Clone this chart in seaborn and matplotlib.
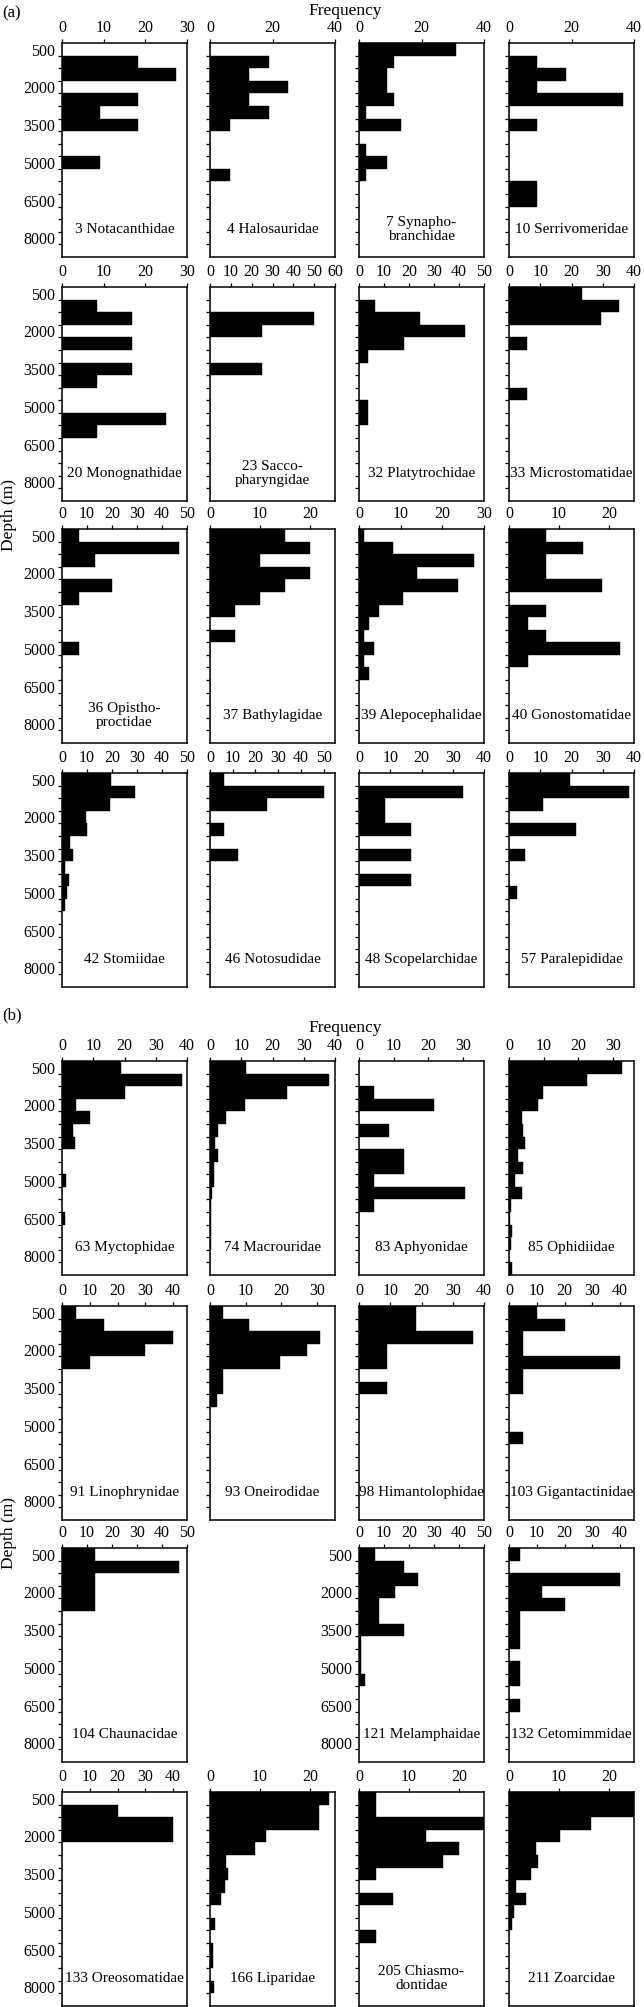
import matplotlib
matplotlib.use("Agg")
import matplotlib.pyplot as plt
import numpy as np
import seaborn as sns

# --- depth bins (m), 500 m wide ---
depth_edges = [0, 500, 1000, 1500, 2000, 2500, 3000, 3500, 4000, 4500,
               5000, 5500, 6000, 6500, 7000, 7500, 8000, 8500]
depth_mid = [250, 750, 1250, 1750, 2250, 2750, 3250, 3750, 4250,
             4750, 5250, 5750, 6250, 6750, 7250, 7750, 8250]
depth_ticklabels = ["500", "", "", "2000", "", "", "3500", "", "", "5000",
                    "", "", "6500", "", "", "8000"]

# --- frequency (%) per depth bin, panel (a) ---
notacanthidae = [0, 18.2, 27.3, 0, 18.2, 9.1, 18.2, 0, 0, 9.1, 0, 0, 0, 0, 0, 0, 0]
halosauridae = [0, 18.8, 12.5, 25, 12.5, 18.8, 6.3, 0, 0, 0, 6.3, 0, 0, 0, 0, 0, 0]
synaphobranchidae = [31.1, 11.1, 8.9, 8.9, 11.1, 2.2, 13.3, 0, 2.2, 8.9, 2.2, 0, 0, 0, 0, 0, 0]
serrivomeridae = [0, 9.1, 18.2, 9.1, 36.4, 0, 9.1, 0, 0, 0, 0, 9.1, 9.1, 0, 0, 0, 0]
monognathidae = [0, 8.3, 16.7, 0, 16.7, 0, 16.7, 8.3, 0, 0, 25, 8.3, 0, 0, 0, 0, 0]
saccopharyngidae = [0, 0, 50, 25, 0, 0, 25, 0, 0, 0, 0, 0, 0, 0, 0, 0, 0]
platytrochidae = [0, 6.5, 24.5, 42.5, 18, 3.5, 0, 0, 0, 3.5, 3.5, 0, 0, 0, 0, 0, 0]
microstomatidae = [23.5, 35.3, 29.4, 0, 5.9, 0, 0, 0, 5.9, 0, 0, 0, 0, 0, 0, 0, 0]
opisthoproctidae = [6.7, 46.7, 13.3, 0, 20, 6.7, 0, 0, 0, 6.7, 0, 0, 0, 0, 0, 0, 0]
bathylagidae = [15, 20, 10, 20, 15, 10, 5, 0, 5, 0, 0, 0, 0, 0, 0, 0, 0]
alepocephalidae = [1.3, 8.2, 27.5, 13.8, 23.7, 10.5, 4.8, 2.5, 1.3, 3.5, 1.3, 2.5, 0, 0, 0, 0, 0]
gonostomatidae = [7.4, 14.8, 7.4, 7.4, 18.5, 0, 7.4, 3.7, 7.4, 22.2, 3.7, 0, 0, 0, 0, 0, 0]
stomiidae = [19.5, 29, 19, 9.5, 10, 3, 4.3, 1, 2.7, 1.8, 1, 0, 0, 0, 0, 0, 0]
notosudidae = [6.3, 50, 25, 0, 6.3, 0, 12.5, 0, 0, 0, 0, 0, 0, 0, 0, 0, 0]
scopelarchidae = [0, 33.3, 8.3, 8.3, 16.7, 0, 16.7, 0, 16.7, 0, 0, 0, 0, 0, 0, 0, 0]
paralepididae = [19.5, 38.5, 11, 0, 21.5, 0, 5, 0, 0, 2.5, 0, 0, 0, 0, 0, 0, 0]

# --- panel (b) ---
myctophidae = [19, 38.5, 20, 4.5, 9, 3.5, 4, 0, 0, 1.2, 0, 0, 1, 0, 0, 0, 0]
macrouridae = [11.5, 38, 24.5, 11.1, 5.2, 2.6, 1.6, 2.4, 1.4, 1.3, 0.6, 0.4, 0.4, 0.3, 0.3, 0, 0]
aphyonidae = [0, 0, 4.3, 21.7, 0, 8.7, 0, 13, 13, 4.3, 30.4, 4.3, 0, 0, 0, 0, 0]
ophidiidae = [32.5, 22.5, 9.7, 8.3, 3.8, 4, 4.5, 2.6, 4, 1.7, 3.8, 0.6, 0.3, 1, 0.6, 0, 1]
linophrynidae = [5, 15, 40, 30, 10, 0, 0, 0, 0, 0, 0, 0, 0, 0, 0, 0, 0]
oneirodidae = [3.7, 10.9, 30.9, 27.1, 19.5, 3.7, 3.7, 1.9, 0, 0, 0, 0, 0, 0, 0, 0, 0]
himantolophidae = [18.2, 18.2, 36.4, 9.1, 9.1, 0, 9.1, 0, 0, 0, 0, 0, 0, 0, 0, 0, 0]
gigantactinidae = [10, 20, 5, 5, 40, 5, 5, 0, 0, 0, 5, 0, 0, 0, 0, 0, 0]
chaunacidae = [13.3, 46.7, 13.3, 13.3, 13.3, 0, 0, 0, 0, 0, 0, 0, 0, 0, 0, 0, 0]
melamphaidae = [6.3, 18, 23.7, 14.2, 8, 8, 18, 0.8, 0.8, 0.8, 2.5, 0, 0, 0, 0, 0, 0]
cetomimmidae = [4, 0, 40, 12, 20, 4, 4, 4, 0, 4, 4, 0, 4, 0, 0, 0, 0]
oreosomatidae = [0, 20, 40, 40, 0, 0, 0, 0, 0, 0, 0, 0, 0, 0, 0, 0, 0]
liparidae = [23.7, 21.7, 21.7, 11.2, 8.9, 3.2, 3.5, 3.1, 2.2, 0, 1, 0, 0.6, 0.6, 0, 0.8, 0]
chiasmodontidae = [3.3, 3.3, 30, 13.3, 20, 16.7, 3.3, 0, 6.7, 0, 0, 3.3, 0, 0, 0, 0, 0]
zoarcidae = [26, 26, 16.3, 10.2, 5.3, 5.8, 4.3, 1.4, 3.3, 1, 0.6, 0, 0, 0, 0, 0, 0]

labels_a = ["3 Notacanthidae", "4 Halosauridae", "7 Synapho-\nbranchidae", "10 Serrivomeridae",
            "20 Monognathidae", "23 Sacco-\npharyngidae", "32 Platytrochidae", "33 Microstomatidae",
            "36 Opistho-\nproctidae", "37 Bathylagidae", "39 Alepocephalidae", "40 Gonostomatidae",
            "42 Stomiidae", "46 Notosudidae", "48 Scopelarchidae", "57 Paralepididae"]
freq_a = [notacanthidae, halosauridae, synaphobranchidae, serrivomeridae,
          monognathidae, saccopharyngidae, platytrochidae, microstomatidae,
          opisthoproctidae, bathylagidae, alepocephalidae, gonostomatidae,
          stomiidae, notosudidae, scopelarchidae, paralepididae]
xmax_a = [30, 40, 40, 40, 30, 60, 50, 40, 50, 25, 30, 25, 50, 55, 40, 40]
xstep_a = [10, 20, 20, 20, 10, 10, 10, 10, 10, 10, 10, 10, 10, 10, 10, 10]

labels_b = ["63 Myctophidae", "74 Macrouridae", "83 Aphyonidae", "85 Ophidiidae",
            "91 Linophrynidae", "93 Oneirodidae", "98 Himantolophidae", "103 Gigantactinidae",
            "104 Chaunacidae", None, "121 Melamphaidae", "132 Cetomimmidae",
            "133 Oreosomatidae", "166 Liparidae", "205 Chiasmo-\ndontidae", "211 Zoarcidae"]
freq_b = [myctophidae, macrouridae, aphyonidae, ophidiidae,
          linophrynidae, oneirodidae, himantolophidae, gigantactinidae,
          chaunacidae, None, melamphaidae, cetomimmidae,
          oreosomatidae, liparidae, chiasmodontidae, zoarcidae]
xmax_b = [40, 40, 36, 36, 45, 35, 40, 45, 50, None, 50, 45, 45, 25, 25, 25]
xstep_b = [10] * 16

# --- layout (pixels of the 644 x 2007 figure) ---
W, H = 644, 2007
col_left = [62, 210, 359, 509]
col_w = 125
row_top_a = [43, 287, 529, 773]
row_top_b = [1061, 1306, 1548, 1792]
row_h = 214

sns.set_theme(style="white")
plt.rcParams["font.family"] = ["Liberation Serif", "DejaVu Serif"]
plt.rcParams["text.color"] = "black"
plt.rcParams["xtick.color"] = "black"
plt.rcParams["ytick.color"] = "black"

fig = plt.figure(figsize=(W / 100, H / 100), dpi=100)
fig.patch.set_facecolor("white")


def draw_panel(left, top, label, vals, xmax, xstep, show_ylabels):
    ax = fig.add_axes([left / W, 1 - (top + row_h) / H, col_w / W, row_h / H])
    ys = [m for m, v in zip(depth_mid, vals) if v > 0]
    ws = [v for v in vals if v > 0]
    sns.histplot(y=ys, weights=ws, bins=depth_edges, ax=ax, color="black",
                 alpha=1, edgecolor="black", linewidth=0.3)
    ax.set_xlim(0, xmax)
    ax.set_ylim(8500, 0)
    ax.xaxis.tick_top()
    xt = np.arange(0, xmax + 0.01, xstep)
    ax.set_xticks(xt)
    ax.set_xticklabels([str(int(t)) for t in xt])
    ax.set_yticks(depth_edges[1:-1])
    ax.set_yticklabels(depth_ticklabels)
    for lab in ax.get_yticklabels():
        lab.set_verticalalignment("baseline")
    ax.tick_params(axis="both", direction="out", length=3, width=0.9, pad=2,
                   labelsize=11.5, left=True, top=True, bottom=False, right=False)
    ax.tick_params(axis="y", labelleft=show_ylabels)
    ax.set_xlabel("")
    ax.set_ylabel("")
    for sp in ax.spines.values():
        sp.set_color("black")
        sp.set_linewidth(1.1)
    ax.text(xmax / 2, 7400, label, ha="center", va="center", fontsize=11,
            linespacing=1.1)
    return ax


for i in range(16):
    r, c = divmod(i, 4)
    draw_panel(col_left[c], row_top_a[r], labels_a[i], freq_a[i], xmax_a[i], xstep_a[i], c == 0)

for i in range(16):
    if freq_b[i] is None:
        continue
    r, c = divmod(i, 4)
    draw_panel(col_left[c], row_top_b[r], labels_b[i], freq_b[i], xmax_b[i], xstep_b[i],
               c == 0 or (r == 2 and c == 2))

# section letters, shared axis titles
fig.text(2 / W, 1 - 13 / H, "(a)", ha="left", va="center", fontsize=12)
fig.text(2 / W, 1 - 1015 / H, "(b)", ha="left", va="center", fontsize=12)
fig.text(345 / W, 1 - 11 / H, "Frequency", ha="center", va="center", fontsize=12.5)
fig.text(345 / W, 1 - 1028 / H, "Frequency", ha="center", va="center", fontsize=12.5)
fig.text(9 / W, 1 - 515 / H, "Depth (m)", ha="center", va="center", rotation=90, fontsize=12.5)
fig.text(9 / W, 1 - 1533 / H, "Depth (m)", ha="center", va="center", rotation=90, fontsize=12.5)

fig.savefig("out.png", dpi=100, facecolor="white")
